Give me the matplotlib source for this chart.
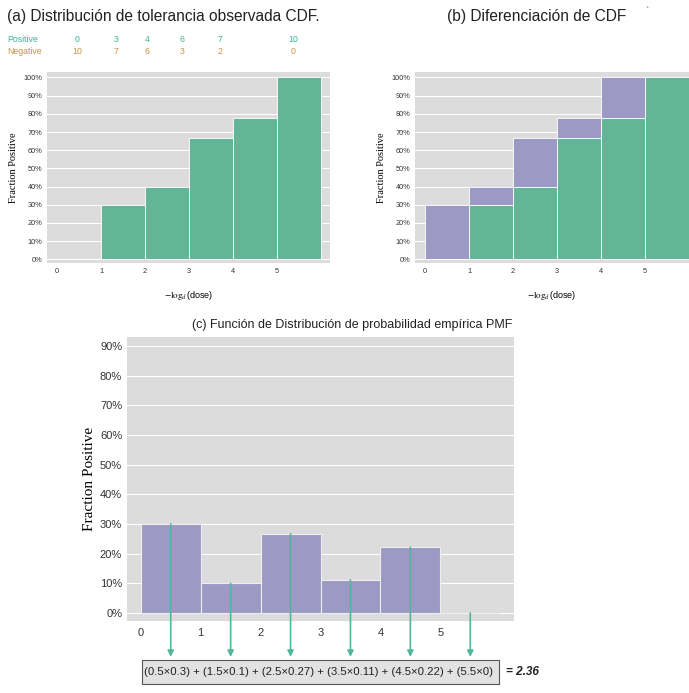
import matplotlib.pyplot as plt
from matplotlib.patches import Rectangle
from matplotlib.ticker import PercentFormatter

plt.rcParams['font.family'] = ['Liberation Sans', 'DejaVu Sans']
plt.rcParams['mathtext.fontset'] = 'stix'

# data
dose = [0, 1, 2, 3, 4, 5]
positive = [0, 3, 4, 6, 7, 10]
negative = [10, 7, 6, 3, 2, 0]
cdf = [p / (p + n) for p, n in zip(positive, negative)]
pmf = [0.30, 0.10, 0.267, 0.111, 0.222, 0.0]
pmf_labels = ['0.3', '0.1', '0.27', '0.11', '0.22', '0']
expected = '2.36'

green = '#63b598'
purple = '#9c99c4'
bg = '#dcdcdc'
serif = ['Liberation Serif', 'DejaVu Serif']

fig = plt.figure(figsize=(6.89, 6.93), dpi=100)


def style(ax, fs):
    ax.set_facecolor(bg)
    for s in ax.spines.values():
        s.set_visible(False)
    ax.yaxis.grid(True, color='white', lw=0.8)
    ax.set_axisbelow(True)
    ax.tick_params(length=0, labelsize=fs, colors='#333333')
    ax.yaxis.set_major_formatter(PercentFormatter(1.0, decimals=0))


# (a) observed CDF
ax_a = fig.add_axes([47 / 689, 1 - 263 / 693, 283 / 689, 191 / 693])
style(ax_a, 5.3)
ax_a.bar(dose, cdf, width=1, align='edge', color=green, edgecolor='white', lw=0.6)
ax_a.set_xlim(-0.227, 6.2)
ax_a.set_ylim(-0.02, 1.03)
ax_a.set_yticks([i / 10 for i in range(11)])
ax_a.set_xticks(dose)
ax_a.set_ylabel('Fraction Positive', family=serif, fontsize=7.5, labelpad=4)
ax_a.set_xlabel(r'$-\log_d$(dose)', fontsize=6.5, labelpad=10)
fig.text(7 / 689, 1 - 16 / 693, '(a) Distribución de tolerancia observada CDF.',
         fontsize=11.2, va='center', color='#222222')

# counts table
xs_pos = [77, 116, 147, 182, 220, 293]
fig.text(7 / 689, 1 - 40 / 693, 'Positive', fontsize=6.3, color='#3cb39a', va='center')
fig.text(7 / 689, 1 - 51 / 693, 'Negative', fontsize=6.3, color='#c8914a', va='center')
for x, p, n in zip(xs_pos, positive, negative):
    fig.text(x / 689, 1 - 40 / 693, str(p), fontsize=6.3, color='#3cb39a', ha='center', va='center')
    fig.text(x / 689, 1 - 51 / 693, str(n), fontsize=6.3, color='#c8914a', ha='center', va='center')

# (b) differencing the CDF
ax_b = fig.add_axes([415 / 689, 1 - 263 / 693, 274 / 689, 191 / 693])
style(ax_b, 5.3)
nxt = cdf[1:] + [cdf[-1]]
ax_b.bar(dose, [b - a for a, b in zip(cdf, nxt)], bottom=cdf, width=1, align='edge',
         color=purple, edgecolor='white', lw=0.6)
ax_b.bar(dose, cdf, width=1, align='edge', color=green, edgecolor='white', lw=0.6)
ax_b.set_xlim(-0.23, 6.0)
ax_b.set_ylim(-0.02, 1.03)
ax_b.set_yticks([i / 10 for i in range(11)])
ax_b.set_xticks(dose)
ax_b.set_ylabel('Fraction Positive', family=serif, fontsize=7.5, labelpad=4)
ax_b.set_xlabel(r'$-\log_d$(dose)', fontsize=6.5, labelpad=10)
fig.text(537 / 689, 1 - 16 / 693, '(b) Diferenciación de CDF', fontsize=11.2,
         ha='center', va='center', color='#222222')
fig.text(647 / 689, 1 - 12 / 693, '`', fontsize=7, color='#555555', ha='center', va='center')

# (c) empirical PMF
ax_c = fig.add_axes([127 / 689, 1 - 621 / 693, 387 / 689, 284 / 693])
style(ax_c, 8)
ax_c.bar(dose, pmf, width=1, align='edge', color=purple, edgecolor='#eeeeee', lw=0.8)
ax_c.set_xlim(-0.23, 6.23)
ax_c.set_ylim(-0.027, 0.93)
ax_c.set_yticks([i / 10 for i in range(10)])
ax_c.set_xticks(dose)
ax_c.tick_params(axis='x', pad=5)
ax_c.set_ylabel('Fraction Positive', family=serif, fontsize=11, labelpad=3)
fig.text(352 / 689, 1 - 325 / 693, '(c) Función de Distribución de probabilidad empírica PMF',
         fontsize=9, ha='center', va='center', color='#222222')

for d, v in zip(dose, pmf):
    ax_c.annotate('', xy=(d + 0.5, -0.148), xytext=(d + 0.5, v),
                  arrowprops=dict(arrowstyle='-|>', color='#4fb89a', lw=1.2,
                                  mutation_scale=9, shrinkA=0, shrinkB=0),
                  annotation_clip=False)

# expectation formula
fig.patches.append(Rectangle((142 / 689, 1 - 684 / 693), 357 / 689, 24 / 693,
                             transform=fig.transFigure, facecolor='#e2e2e2',
                             edgecolor='#555555', lw=0.8))
terms = ['({}\u00d7{})'.format(d + 0.5, lab) for d, lab in zip(dose, pmf_labels)]
fig.text(318 / 689, 1 - 672 / 693, ' + '.join(terms), fontsize=8.2,
         ha='center', va='center', color='#222222')
fig.text(506 / 689, 1 - 672 / 693, '= ' + expected, fontsize=8.5, fontweight='bold',
         style='italic', va='center', color='#222222')

fig.savefig('out.png', dpi=100)
